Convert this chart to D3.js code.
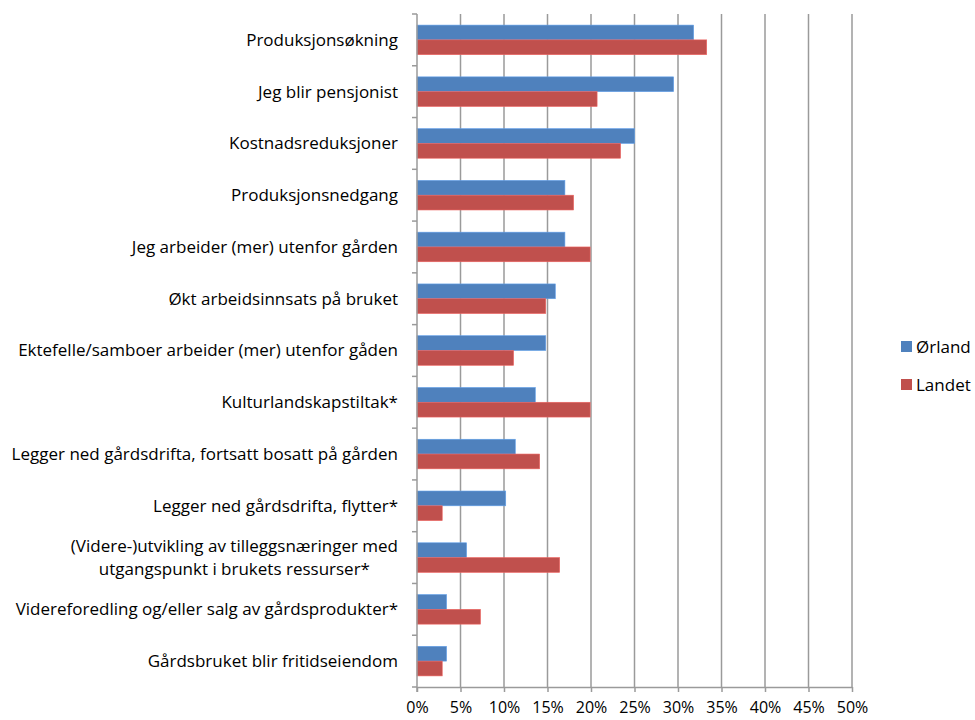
<!DOCTYPE html>
<html>
<head>
<meta charset="utf-8">
<script src="https://cdn.jsdelivr.net/npm/d3@7"></script>
<style>
  body { margin: 0; background: #fff; }
  text { font-family: "Open Sans", "Noto Sans", sans-serif; fill: #000; }
</style>
</head>
<body>
<div id="chart"></div>
<script>
// Categories, top to bottom
const categories = [
  "Produksjonsøkning",
  "Jeg blir pensjonist",
  "Kostnadsreduksjoner",
  "Produksjonsnedgang",
  "Jeg arbeider (mer) utenfor gården",
  "Økt arbeidsinnsats på bruket",
  "Ektefelle/samboer arbeider (mer) utenfor gåden",
  "Kulturlandskapstiltak*",
  "Legger ned gårdsdrifta, fortsatt bosatt på gården",
  "Legger ned gårdsdrifta, flytter*",
  "(Videre-)utvikling av tilleggsnæringer med\nutgangspunkt i brukets ressurser*",
  "Videreforedling og/eller salg av gårdsprodukter*",
  "Gårdsbruket blir fritidseiendom"
];
const series = ["Ørland", "Landet"];
const orland = [31.8, 29.5, 25.0, 17.0, 17.0, 15.9, 14.8, 13.6, 11.3, 10.2, 5.7, 3.4, 3.4];
const landet = [33.3, 20.7, 23.4, 18.0, 19.9, 14.8, 11.1, 19.9, 14.1, 2.9, 16.4, 7.3, 2.9];
const xTicks = [0, 5, 10, 15, 20, 25, 30, 35, 40, 45, 50];
const colors = { "Ørland": "#4F81BD", "Landet": "#C0504D" };

const width = 975, height = 720;
const margin = { top: 14, right: 123, bottom: 33, left: 417 };

const svg = d3.select("#chart").append("svg")
    .attr("width", width)
    .attr("height", height);

const x = d3.scaleLinear()
    .domain([0, 50])
    .range([margin.left, width - margin.right]);

const y = d3.scaleBand()
    .domain(categories)
    .range([margin.top, height - margin.bottom])
    .padding(0);

const ySub = d3.scaleBand()
    .domain(series)
    .range([0, y.bandwidth()])
    .paddingInner(0)
    .paddingOuter(0.75);

const gridColor = "#9a9a9a";

// vertical gridlines
svg.append("g")
    .selectAll("line")
    .data(xTicks.slice(1))
    .enter().append("line")
    .attr("x1", d => x(d)).attr("x2", d => x(d))
    .attr("y1", margin.top).attr("y2", height - margin.bottom)
    .attr("stroke", gridColor)
    .attr("stroke-width", 1.5);

// bars
const rows = categories.map((c, i) => ({ cat: c, values: [
    { key: "Ørland", value: orland[i] },
    { key: "Landet", value: landet[i] }
]}));

const group = svg.append("g")
    .selectAll("g")
    .data(rows)
    .enter().append("g")
    .attr("transform", d => `translate(0,${y(d.cat)})`);

group.selectAll("rect")
    .data(d => d.values)
    .enter().append("rect")
    .attr("x", x(0))
    .attr("y", d => ySub(d.key))
    .attr("width", d => x(d.value) - x(0))
    .attr("height", ySub.bandwidth())
    .attr("fill", d => colors[d.key])
    .attr("stroke", d => d3.color(colors[d.key]).brighter(0.6))
    .attr("stroke-width", 0.6);

// bottom axis
const xAxis = svg.append("g")
    .attr("transform", `translate(0,${height - margin.bottom})`)
    .call(d3.axisBottom(x).tickValues(xTicks).tickFormat(d => d + "%").tickSize(5).tickSizeOuter(0));
xAxis.select(".domain").attr("stroke", gridColor).attr("stroke-width", 1.5);
xAxis.selectAll(".tick line").attr("stroke", gridColor).attr("stroke-width", 1.5);
xAxis.selectAll(".tick text")
    .attr("y", 15)
    .style("font-size", "16px");

// left axis: ticks at category boundaries
const yAxis = svg.append("g");
yAxis.append("line")
    .attr("x1", x(0)).attr("x2", x(0))
    .attr("y1", margin.top).attr("y2", height - margin.bottom + 5)
    .attr("stroke", gridColor)
    .attr("stroke-width", 1.5);
const bounds = categories.map(c => y(c)).concat([height - margin.bottom]);
yAxis.selectAll("line.tick")
    .data(bounds)
    .enter().append("line")
    .attr("class", "tick")
    .attr("x1", x(0) - 5).attr("x2", x(0))
    .attr("y1", d => d).attr("y2", d => d)
    .attr("stroke", gridColor)
    .attr("stroke-width", 1.5);

// category labels
const labelRight = 398;
const labels = svg.append("g")
    .selectAll("text")
    .data(categories)
    .enter().append("text")
    .style("font-size", "17px")
    .attr("y", d => y(d) + y.bandwidth() / 2);

labels.each(function(d) {
    const lines = d.split("\n");
    const t = d3.select(this);
    if (lines.length === 1) {
        t.attr("x", labelRight).attr("text-anchor", "end").attr("dy", "0.35em").text(d);
    } else {
        lines.forEach((ln, i) => {
            t.append("tspan").attr("text-anchor", "middle").text(ln);
        });
        const maxW = d3.max(t.selectAll("tspan").nodes(), n => n.getComputedTextLength());
        const cx = labelRight - maxW / 2;
        t.selectAll("tspan")
            .attr("x", cx)
            .attr("dy", (ln, i) => i === 0 ? "-0.3em" : "1.3em");
    }
});

// legend
const legend = svg.append("g")
    .selectAll("g")
    .data(series)
    .enter().append("g")
    .attr("transform", (d, i) => `translate(901,${341 + i * 38})`);
legend.append("rect")
    .attr("width", 11).attr("height", 11)
    .attr("fill", d => colors[d]);
legend.append("text")
    .attr("x", 15).attr("y", 6)
    .attr("dy", "0.35em")
    .style("font-size", "17px")
    .text(d => d);
</script>
</body>
</html>
